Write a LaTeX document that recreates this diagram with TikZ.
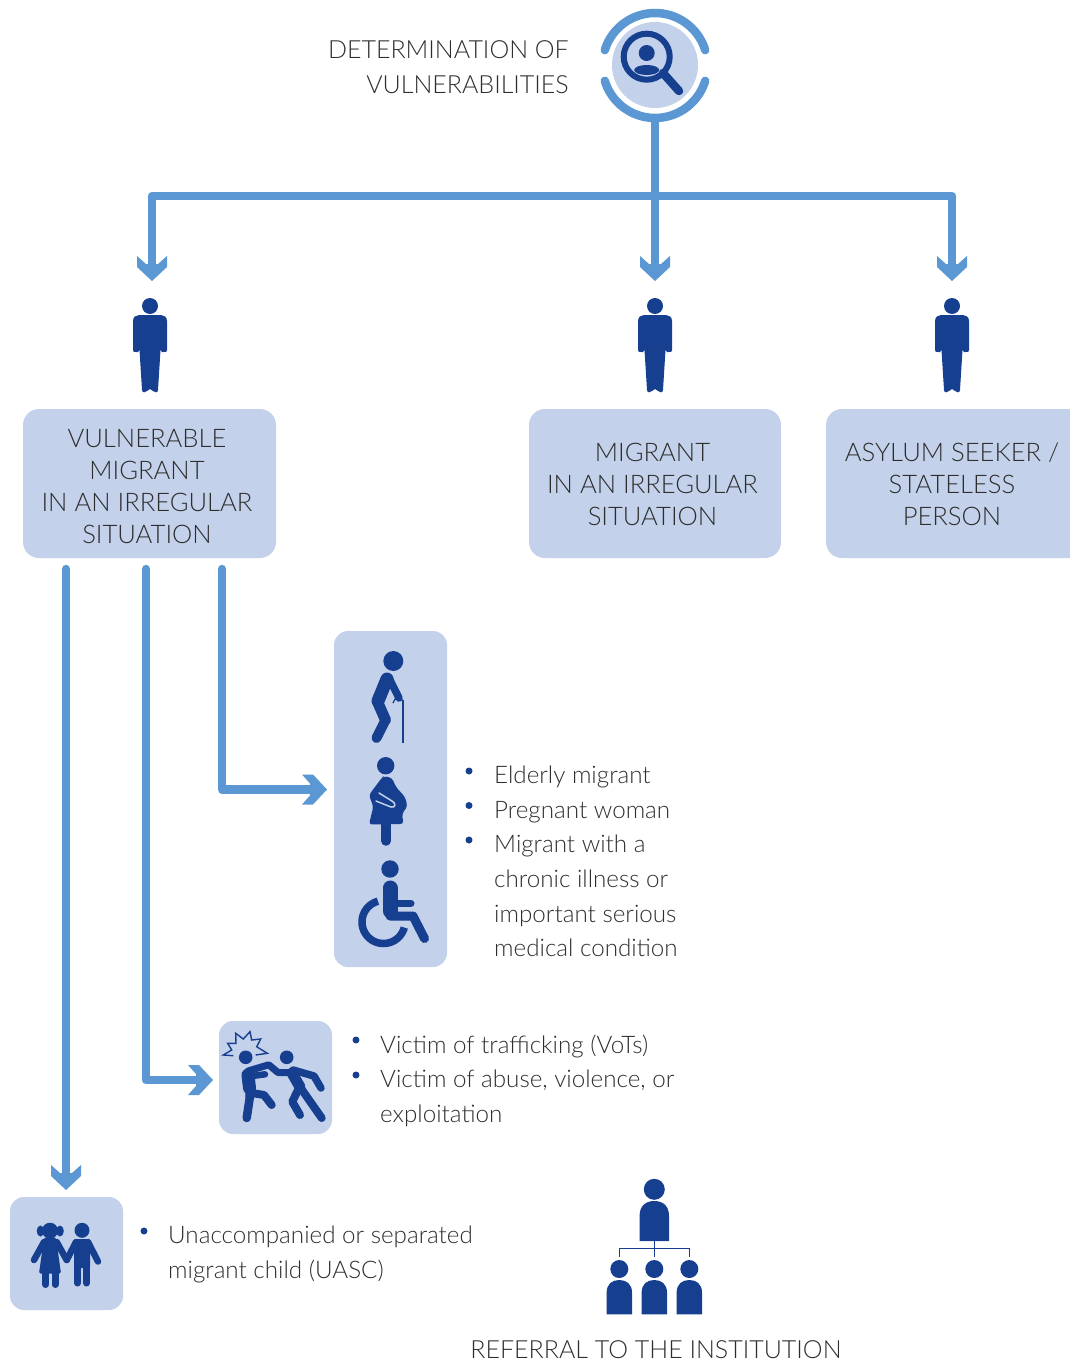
\documentclass[tikz,border=0pt]{standalone}
\usepackage{fontspec}
\setmainfont{Lato}[UprightFont=* Light]
\definecolor{lightb}{HTML}{C3D1EB}
\definecolor{midb}{HTML}{5B97D2}
\definecolor{darkb}{HTML}{163F8F}
\definecolor{txt}{HTML}{2E2E2E}
\pgfdeclarearrow{
  name=Chev,
  setup code={
    \pgfarrowssettipend{0pt}
    \pgfarrowssetlineend{-16pt}
    \pgfarrowssetvisualbackend{-17pt}
    \pgfarrowssetbackend{-25pt}
    \pgfarrowshullpoint{0pt}{0pt}
    \pgfarrowshullpoint{-25pt}{15pt}
    \pgfarrowshullpoint{-25pt}{-15pt}
  },
  drawing code={
    \pgfpathmoveto{\pgfqpoint{0pt}{0pt}}
    \pgfpathlineto{\pgfqpoint{-14pt}{15pt}}
    \pgfpathlineto{\pgfqpoint{-25pt}{15pt}}
    \pgfpathlineto{\pgfqpoint{-17pt}{6pt}}
    \pgfpathlineto{\pgfqpoint{-17pt}{-6pt}}
    \pgfpathlineto{\pgfqpoint{-25pt}{-15pt}}
    \pgfpathlineto{\pgfqpoint{-14pt}{-15pt}}
    \pgfpathclose
    \pgfusepathqfill
  }
}
\tikzset{
  x=1pt,y=-1pt,
  conn/.style={draw=midb,line width=8.5pt,line join=round},
  panel/.style={fill=lightb,rounded corners=14pt,inner sep=0pt},
  boxtext/.style={text=txt,align=center,inner sep=0pt,font=\fontsize{25.6}{32}\selectfont},
  listtext/.style={text=txt,align=left,inner sep=0pt,anchor=north west,font=\fontsize{24.2}{34.7}\selectfont},
  bul/.style={fill=darkb},
  ink/.style={draw=darkb,line cap=round,line join=round},
  person/.pic={
    \fill[darkb] (0,0) circle[radius=8];
    \fill[darkb] (-17,15) .. controls (-17,11) and (-14,9) .. (-11,9) -- (11,9)
      .. controls (14,9) and (17,11) .. (17,15) -- (17,44)
      .. controls (17,46) and (16,46) .. (14,46) -- (12,46) -- (10.5,44)
      -- (8,84) .. controls (8,87) and (4,87) .. (3,85) -- (0,83) -- (-3,85)
      .. controls (-4,87) and (-8,87) .. (-8,84) -- (-10.5,44) -- (-12,46) -- (-14,46)
      .. controls (-16,46) and (-17,46) .. (-17,44) -- cycle;
  }
}
\newcommand{\bust}[4]{\fill[darkb] (#1-#3,#4) -- (#1-#3,#2+#3)
  .. controls (#1-#3,#2+0.3*#3) and (#1-0.55*#3,#2) .. (#1,#2)
  .. controls (#1+0.55*#3,#2) and (#1+#3,#2+0.3*#3) .. (#1+#3,#2+#3)
  -- (#1+#3,#4) -- cycle;}
\begin{document}
\begin{tikzpicture}
\useasboundingbox (0,0) rectangle (1070,1365);

% top icon
\fill[lightb] (655,65) circle[radius=43];
\draw[midb,line width=8.5pt,line cap=round] plot[domain=17:163,samples=40] ({655+52.5*cos(\x)},{65.5-52.5*sin(\x)});
\draw[midb,line width=8.5pt,line cap=round] plot[domain=197:343,samples=40] ({655+52.5*cos(\x)},{65.5-52.5*sin(\x)});
\draw[darkb,line width=6pt] (646.7,56.7) circle[radius=23];
\draw[ink,line width=8.5pt] (663,73) -- (679,91);
\fill[darkb] (646.7,53) circle[radius=8];
\fill[darkb] (646.7,70) ellipse[x radius=12.5,y radius=5];
\coordinate (top) at (655,120);

\node[text=txt,align=right,inner sep=0pt,anchor=east,font=\fontsize{25}{35}\selectfont] (title) at (569,67) {DETERMINATION OF\\VULNERABILITIES};

% top boxes
\node[panel,rounded corners=16pt,minimum width=253pt,minimum height=149pt] (v) at (149.5,483.5) {};
\node[boxtext] (vt) at (147,487) {VULNERABLE\\MIGRANT\\IN AN IRREGULAR\\SITUATION};
\node[panel,rounded corners=16pt,minimum width=252pt,minimum height=149pt] (m) at (655,483.5) {};
\node[boxtext] (mt) at (652.5,484.5) {MIGRANT\\IN AN IRREGULAR\\SITUATION};
\fill[lightb,rounded corners=16pt] (1090,409) -- (826,409) -- (826,558) -- (1090,558) -- cycle;
\node[boxtext] (a) at (952,484.5) {ASYLUM SEEKER /\\STATELESS\\PERSON};

% persons
\pic at (150,306) {person};
\pic at (655,306) {person};
\pic at (952,306) {person};

% arrows from top icon
\coordinate (j) at (655,196);
\coordinate (t1) at (152,281);
\coordinate (t2) at (655,281);
\coordinate (t3) at (952,281);
\draw[conn] (top) -- (j);
\draw[conn,-{Chev}] (j) -- (152,196) -- (t1);
\draw[conn,-{Chev}] (j) -- (t2);
\draw[conn,-{Chev}] (j) -- (952,196) -- (t3);

% panels
\node[panel,minimum width=113pt,minimum height=336pt] (pa) at (390.5,799) {};
\node[panel,minimum width=113pt,minimum height=113pt] (pb) at (275.5,1077.5) {};
\node[panel,minimum width=113pt,minimum height=113pt] (pc) at (66.5,1253.5) {};

% arrows from vulnerable box
\coordinate (s1) at (66,569);
\coordinate (s2) at (146,569);
\coordinate (s3) at (222,569);
\coordinate (e1) at (66,1190);
\coordinate (e2) at (213,1080);
\coordinate (e3) at (327,789.5);
\draw[conn,line cap=round,-{Chev}] (s1) -- (e1);
\draw[conn,line cap=round,-{Chev}] (s2) -- (146,1080) -- (e2);
\draw[conn,line cap=round,-{Chev}] (s3) -- (222,789.5) -- (e3);

% elderly
\fill[darkb] (393.3,661) circle[radius=10];
\draw[ink,line width=13pt] (387,679) -- (378,701);
\draw[ink,line width=11pt] (378,703) -- (385.5,720);
\draw[ink,line width=10pt] (385.5,720) -- (376.5,738);
\draw[ink,line width=7.5pt] (389,678) -- (399,698);
\draw[darkb,line width=1.8pt] (402.7,700) -- (402.7,743);
\draw[darkb,line width=1.3pt] (393,703) -- (395,699) -- (402.7,700);

% pregnant
\fill[darkb] (385.7,765.7) circle[radius=8.7];
\fill[darkb,rounded corners=3pt] (384,776) -- (392,778) -- (396,787) -- (405,797) -- (407.5,806)
  -- (402,814) -- (403.5,824) -- (369,824.5) -- (373.3,806.7) -- (369,795) -- (381.7,778) -- cycle;
\draw[ink,line width=9.5pt] (386,824) -- (386,841);
\draw[lightb,line width=1.5pt,line cap=round] (379,793) -- (392,801) .. controls (396,803) and (396,808) .. (391,807) -- (376,801);

% wheelchair
\fill[darkb] (390,869) circle[radius=8.7];
\draw[ink,line width=15pt] (390,888) -- (390,911);
\draw[ink,line width=7pt] (393,903.3) -- (411,903.3);
\draw[ink,line width=9pt] (390,916) -- (413,916) -- (424.5,938.5);
\draw[darkb,line width=7.5pt] plot[domain=105:345,samples=40] ({383.5+21.5*cos(\x)},{922-21.5*sin(\x)});

% fight
\fill[darkb] (245.7,1057.3) circle[radius=6.8];
\fill[darkb] (286.7,1057.3) circle[radius=6.8];
\draw[ink,line width=13pt] (248,1075) -- (249.5,1088);
\draw[ink,line width=9pt] (249.5,1088) -- (250,1097);
\draw[ink,line width=7pt] (248,1071) -- (268,1065);
\draw[ink,line width=6.5pt] (252,1076) -- (265,1074.3);
\draw[ink,line width=8.5pt] (250,1096) -- (246.7,1118);
\draw[ink,line width=8pt] (252,1093) -- (264,1095) -- (271.7,1105);
\draw[ink,line width=11pt] (292,1073) -- (300,1087);
\draw[ink,line width=7pt] (292,1072.5) -- (278,1072.5) -- (269,1065);
\draw[ink,line width=7.5pt] (293,1070) -- (314,1076) -- (321,1088);
\draw[ink,line width=8pt] (300,1087) -- (321.7,1118);
\draw[ink,line width=8pt] (298,1090) -- (292.3,1101.7) -- (300,1115);
\draw[darkb,line width=1.4pt,line join=miter] (233.3,1055.7) -- (223.3,1055) -- (231.7,1050) -- (227.7,1043.3) -- (236,1043.3) -- (235.7,1033.3) -- (243.3,1039) -- (250,1031.7) -- (251.7,1040) -- (260.7,1039) -- (256.7,1046.7) -- (267.3,1053.3) -- (255.7,1055);

% children
\fill[darkb] (50,1230.7) circle[radius=8];
\fill[darkb] (40.5,1231) ellipse[x radius=3.8,y radius=5.5];
\fill[darkb] (60,1231) ellipse[x radius=3.8,y radius=5.5];
\fill[darkb,rounded corners=1.5pt] (44,1237.5) -- (56,1237.5) -- (61,1273.5) -- (39,1273.5) -- cycle;
\draw[ink,line width=7pt] (45.7,1273) -- (45.7,1284.5);
\draw[ink,line width=7pt] (55,1273) -- (55,1284.5);
\draw[ink,line width=6.5pt] (44,1242) -- (34,1260);
\draw[ink,line width=6.5pt] (56.7,1242) -- (66.7,1260);
\fill[darkb] (82,1230.3) circle[radius=7.5];
\fill[darkb,rounded corners=2pt] (74,1239) -- (90,1239) -- (90,1268) -- (74,1268) -- cycle;
\draw[ink,line width=7pt] (77.5,1266) -- (77.5,1283);
\draw[ink,line width=7pt] (86.5,1266) -- (86.5,1283);
\draw[ink,line width=6.5pt] (76,1242) -- (66.7,1260);
\draw[ink,line width=6.5pt] (88,1242) -- (98,1261.5);

% org chart
\fill[darkb] (654.3,1189.3) circle[radius=10.5];
\bust{654.3}{1201}{14.7}{1241}
\foreach \c in {619.3,654.3,689.3}{
  \fill[darkb] (\c,1269) circle[radius=9];
  \bust{\c}{1280}{12.7}{1314.3}
}
\draw[darkb,line width=1.5pt] (654.3,1241) -- (654.3,1257);
\draw[darkb,line width=1.5pt] (619.3,1257) -- (619.3,1248.3) -- (689.3,1248.3) -- (689.3,1257);

% lists
\foreach \p in {(469,771),(469,805.5),(469,840),(356,1040),(356,1075),(144,1231)}{
  \fill[bul] \p circle[radius=3.5];
}
\node[listtext] (la) at (494,765.5) {Elderly migrant\\Pregnant woman\\Migrant with a\\chronic illness or\\important serious\\medical condition};
\node[listtext] (lb) at (380,1034.5) {Victim of trafficking (VoTs)\\Victim of abuse, violence, or\\exploitation};
\node[listtext] (lc) at (168,1225.5) {Unaccompanied or separated\\migrant child (UASC)};
\node[text=txt,inner sep=0pt,font=\fontsize{25}{30}\selectfont] (ref) at (656,1350) {REFERRAL TO THE INSTITUTION};
\end{tikzpicture}
\end{document}
